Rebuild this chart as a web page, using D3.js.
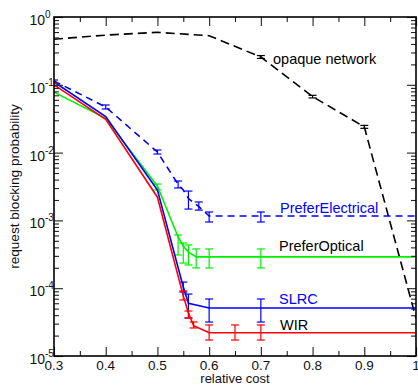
<!DOCTYPE html>
<html><head><meta charset="utf-8">
<script src="https://cdn.jsdelivr.net/npm/d3@7"></script>
<style>html,body{margin:0;padding:0;background:#fff;}svg{display:block;font-family:"Liberation Sans",Arial,sans-serif;}</style>
</head><body>
<svg id="c" width="418" height="385"></svg>
<script>
// ---- data ----
const xTicks = [0.3,0.4,0.5,0.6,0.7,0.8,0.9,1];
const xTickLabels = ["0.3","0.4","0.5","0.6","0.7","0.8","0.9","1"];
const yTickExps = [0,-1,-2,-3,-4,-5];

const opaqueX  = [0.3,0.4,0.5,0.6,0.7,0.8,0.9,1.0];
const opaqueY  = [0.47,0.54,0.595,0.53,0.257,0.067,0.024,0.000036];
const opaqueLo = [null,null,null,null,0.245,0.064,0.0228,null];
const opaqueHi = [null,null,null,null,0.27,0.070,0.0252,null];

const elecX  = [0.3,0.4,0.5,0.54,0.55,0.56,0.58,0.6,0.7,1.0];
const elecY  = [0.114,0.047,0.0102,0.0034,0.0028,0.0021,0.0016,0.00116,0.00116,0.00116];
const elecLo = [0.1064,0.0440,0.00953,0.00301,null,0.00147,0.00142,0.000947,0.000947,null];
const elecHi = [0.1177,0.0504,0.01092,0.00381,null,0.00271,0.00187,0.00133,0.00133,null];

const optX  = [0.3,0.4,0.5,0.54,0.55,0.56,0.575,0.6,0.7,1.0];
const optY  = [0.078,0.032,0.0032,0.00057,0.00042,0.00034,0.00029,0.00029,0.00029,0.00029];
const optLo = [null,null,0.00281,0.000309,0.000235,0.00022,0.000199,0.000199,0.000199,null];
const optHi = [null,null,0.00344,0.000609,0.000464,0.000434,0.000379,0.000379,0.000379,null];

const slrcX  = [0.3,0.4,0.5,0.55,0.56,0.6,0.7,1.0];
const slrcY  = [0.11,0.034,0.0028,0.000104,0.00006,0.000051,0.000051,0.000051];
const slrcLo = [null,null,null,0.0000879,0.0000363,0.0000317,0.0000317,null];
const slrcHi = [null,null,null,0.000123,0.000082,0.0000693,0.0000693,null];

const wirX  = [0.3,0.4,0.5,0.55,0.56,0.57,0.6,0.65,0.7,1.0];
const wirY  = [0.10,0.031,0.0022,0.000077,0.000043,0.000028,0.000022,0.000022,0.000022,0.000022];
const wirLo = [0.095,null,null,0.000067,0.0000363,0.0000259,0.0000172,0.0000172,0.0000172,null];
const wirHi = [0.106,null,null,0.000091,0.0000461,0.0000318,0.0000287,0.0000287,0.0000287,null];

const seriesNames = ["opaque network","PreferElectrical","PreferOptical","SLRC","WIR"];

// ---- layout ----
const svg = d3.select("#c");
const L = 54, R = 416, T = 17, B = 356;
const x = d3.scaleLinear().domain([0.3,1.0]).range([L,R]);
const y = d3.scaleLog().domain([1e-5,1]).range([B,T]);

const series = [
  {name:seriesNames[0], xs:opaqueX, ys:opaqueY, lo:opaqueLo, hi:opaqueHi, color:"#000", dash:"9,5", lx:273, ly:64, lc:"#000"},
  {name:seriesNames[1], xs:elecX, ys:elecY, lo:elecLo, hi:elecHi, color:"#0000ff", dash:"7,5", lx:280, ly:213, lc:"#0000ff"},
  {name:seriesNames[2], xs:optX, ys:optY, lo:optLo, hi:optHi, color:"#00f000", dash:null, lx:279, ly:251, lc:"#000"},
  {name:seriesNames[3], xs:slrcX, ys:slrcY, lo:slrcLo, hi:slrcHi, color:"#0000ff", dash:null, lx:279, ly:304, lc:"#0000ff"},
  {name:seriesNames[4], xs:wirX, ys:wirY, lo:wirLo, hi:wirHi, color:"#ff0000", dash:null, lx:280, ly:330, lc:"#000"}
];

const plot = svg.append("g");
plot.append("clipPath").attr("id","clip").append("rect").attr("x",L).attr("y",T).attr("width",R-L).attr("height",B-T);
const g = plot.append("g").attr("clip-path","url(#clip)");

const line = d3.line().x(d=>x(d[0])).y(d=>y(d[1]));
series.forEach(s=>{
  const pts = s.xs.map((v,i)=>[v,s.ys[i]]);
  g.append("path").attr("d",line(pts)).attr("fill","none").attr("stroke",s.color)
    .attr("stroke-width",1.6).attr("stroke-dasharray",s.dash);
  s.xs.forEach((v,i)=>{
    if (s.lo[i]==null) return;
    const cx = x(v), y1 = y(s.lo[i]), y2 = y(s.hi[i]);
    const eb = g.append("g").attr("stroke",s.color).attr("stroke-width",1.2);
    eb.append("line").attr("x1",cx).attr("x2",cx).attr("y1",y1).attr("y2",y2);
    eb.append("line").attr("x1",cx-4).attr("x2",cx+4).attr("y1",y1).attr("y2",y1);
    eb.append("line").attr("x1",cx-4).attr("x2",cx+4).attr("y1",y2).attr("y2",y2);
  });
});

// series labels
series.forEach(s=>{
  svg.append("text").attr("x",s.lx).attr("y",s.ly).attr("fill",s.lc)
    .attr("font-size","14.5px").text(s.name);
});

// ---- axes ----
const minorX = d3.range(0.35,1.0,0.1);
const axB = d3.axisBottom(x).tickValues(xTicks).tickSize(-9).tickFormat("");
const axT = d3.axisTop(x).tickValues(xTicks).tickSize(-9).tickFormat("");
svg.append("g").attr("transform",`translate(0,${B})`).call(axB);
svg.append("g").attr("transform",`translate(0,${T})`).call(axT);
svg.append("g").attr("transform",`translate(0,${B})`).call(d3.axisBottom(x).tickValues(minorX).tickSize(-5).tickFormat(""));
svg.append("g").attr("transform",`translate(0,${T})`).call(d3.axisTop(x).tickValues(minorX).tickSize(-5).tickFormat(""));

const majY = yTickExps.map(e=>Math.pow(10,e));
const minY = [];
for (let e=-5;e<0;e++) for (let m=2;m<=9;m++) minY.push(m*Math.pow(10,e));
svg.append("g").attr("transform",`translate(${L},0)`).call(d3.axisLeft(y).tickValues(majY).tickSize(-9).tickFormat(""));
svg.append("g").attr("transform",`translate(${R},0)`).call(d3.axisRight(y).tickValues(majY).tickSize(-9).tickFormat(""));
svg.append("g").attr("transform",`translate(${L},0)`).call(d3.axisLeft(y).tickValues(minY).tickSize(-5).tickFormat(""));
svg.append("g").attr("transform",`translate(${R},0)`).call(d3.axisRight(y).tickValues(minY).tickSize(-5).tickFormat(""));
svg.selectAll(".domain").remove();
svg.selectAll(".tick line").attr("stroke","#222").attr("stroke-width",1.1);

// frame
svg.append("rect").attr("x",L).attr("y",T).attr("width",R-L).attr("height",B-T)
  .attr("fill","none").attr("stroke","#000").attr("stroke-width",1.6);

// x tick labels
svg.append("g").selectAll("text").data(xTicks).join("text")
  .attr("x",d=>x(d)).attr("y",370).attr("text-anchor","middle")
  .attr("font-size","13.5px").attr("fill","#111").text((d,i)=>xTickLabels[i]);

// y tick labels
svg.append("g").selectAll("text").data(yTickExps).join("text")
  .attr("x",45).attr("y",d=>y(Math.pow(10,d))+8).attr("text-anchor","end")
  .attr("font-size","14px").attr("fill","#111").text("10");
svg.append("g").selectAll("text").data(yTickExps).join("text")
  .attr("x",45).attr("y",d=>y(Math.pow(10,d))+1).attr("text-anchor","start")
  .attr("font-size","10px").attr("fill","#111").text(d=>d===0?"0":"-"+(-d));

// axis titles
svg.append("text").attr("x",(L+R)/2).attr("y",383).attr("text-anchor","middle")
  .attr("font-size","13px").attr("fill","#111").text("relative cost");
svg.append("text").attr("transform",`translate(19,${(T+B)/2}) rotate(-90)`)
  .attr("text-anchor","middle").attr("font-size","13.6px").attr("fill","#111")
  .text("request blocking probability");
</script>
</body></html>
